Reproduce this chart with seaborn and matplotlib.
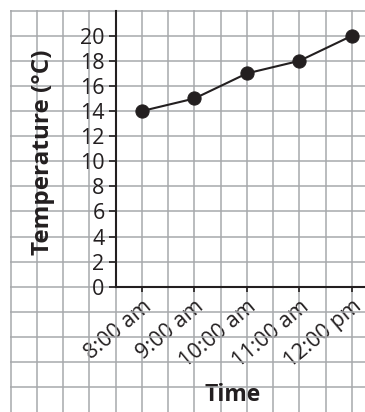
import numpy as np
import seaborn as sns
import matplotlib.pyplot as plt
from matplotlib.ticker import MultipleLocator

# readings off the graph paper
times = ["8:00 am", "9:00 am", "10:00 am", "11:00 am", "12:00 pm"]
temps = [14, 15, 17, 18, 20]
y_ticks = list(range(0, 21, 2))

sns.set_style("white")
plt.rcParams['font.family'] = ['Open Sans', 'DejaVu Sans']

ink = "#231f20"
paper = "#a7a9ac"

fig = plt.figure(figsize=(3.65, 4.12), dpi=100)
# one axes covering the whole sheet of graph paper
ax = fig.add_axes([10/365, 0, 355/365, 402/412])

pos = np.arange(len(times))
sns.lineplot(x=pos, y=temps, ax=ax, color=ink, linewidth=1.5,
             marker="o", markersize=9.5, markeredgecolor=ink, markerfacecolor=ink)

ax.set_xlim(-2.514, 4.248)
ax.set_ylim(-9.98, 22.05)

# spines first - set_position resets the ticks
for side in ["top", "right"]:
    ax.spines[side].set_visible(False)
ax.spines["left"].set_position(("data", -0.5))
ax.spines["left"].set_bounds(0, 22)
ax.spines["bottom"].set_position(("data", 0))
ax.spines["bottom"].set_bounds(-0.5, 4.25)
for side in ["left", "bottom"]:
    ax.spines[side].set_color(ink)
    ax.spines[side].set_linewidth(1.5)

# grid squares: half an hour across, 2 degrees up
ax.xaxis.set_minor_locator(MultipleLocator(0.5))
ax.yaxis.set_minor_locator(MultipleLocator(2))
ax.set_axisbelow(True)
ax.grid(which="both", color=paper, linewidth=1.1)

ax.tick_params(which="minor", length=0)
ax.tick_params(axis="y", which="major", left=True, length=5, width=1.2, color=ink,
               labelsize=15.5, labelcolor=ink, pad=3)
ax.tick_params(axis="x", which="major", bottom=True, length=3.6, width=1.2, color=ink,
               labelsize=15.5, labelcolor=ink, pad=3, labelrotation=40)
ax.set_yticks(y_ticks)
ax.set_xticks(pos)
ax.set_xticklabels(times)
for lab in ax.get_xticklabels():
    lab.set_ha("right")
    lab.set_rotation_mode("anchor")

ax.set_ylabel("Temperature (°C)", fontsize=17.5, fontweight="bold", color=ink)
ax.set_xlabel("Time", fontsize=16.5, fontweight="bold", color=ink)
ax.yaxis.set_label_coords(-1.886, 10.73, transform=ax.transData)
ax.xaxis.set_label_coords(1.733, -8.6, transform=ax.transData)
ax.yaxis.label.set_va("center")
ax.xaxis.label.set_va("center")

fig.savefig("out.png", dpi=100, facecolor="white")
